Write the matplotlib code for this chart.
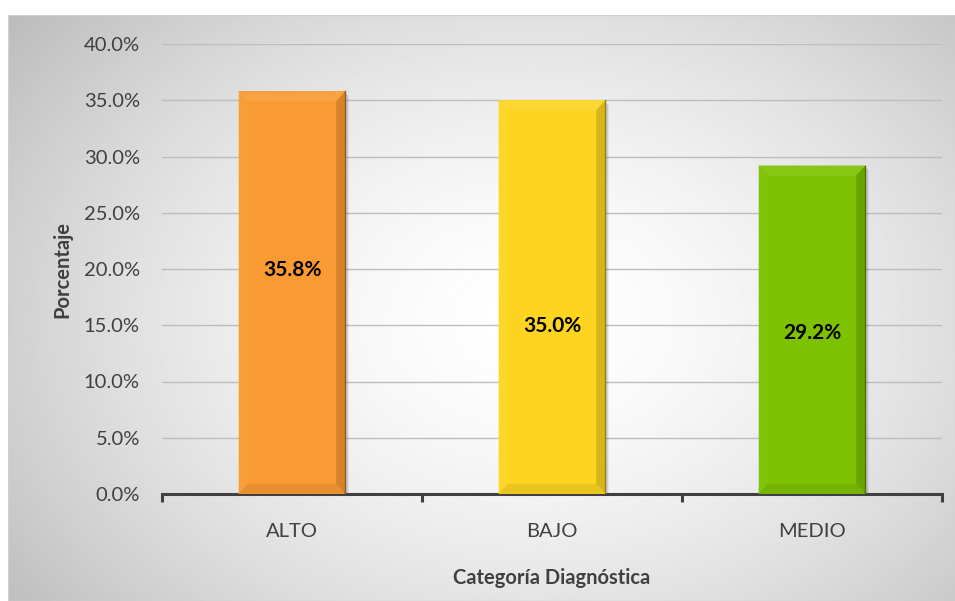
import matplotlib
matplotlib.use("Agg")
import matplotlib.pyplot as plt
from matplotlib.patches import Polygon
from matplotlib.colors import to_rgb
from matplotlib.ticker import FuncFormatter, MultipleLocator
import numpy as np

categories = ["ALTO", "BAJO", "MEDIO"]
values = [35.8, 35.0, 29.2]
labels = ["35.8%", "35.0%", "29.2%"]
label_y = [19.9, 14.9, 14.3]
colors = ["#F99A32", "#FDD521", "#7DC100"]


def mix(c, other, t):
    c = np.array(to_rgb(c))
    o = np.array(to_rgb(other))
    return tuple(c * (1 - t) + o * t)


def main():
    plt.rcParams['font.family'] = ['Lato', 'DejaVu Sans']
    W, H = 955, 601
    fig = plt.figure(figsize=(W / 100, H / 100), dpi=100)
    fig.patch.set_facecolor("white")

    # radial gradient background of the chart area
    bg = fig.add_axes([8 / W, 0, 1 - 8 / W, (H - 15) / H], zorder=0)
    ny, nx = 300, 480
    yy, xx = np.mgrid[0:ny, 0:nx]
    cx, cy = nx * 0.55, ny * 0.52
    r = np.sqrt(((xx - cx) / (nx * 0.62)) ** 2 + ((yy - cy) / (ny * 0.75)) ** 2)
    shade = 1 - 0.22 * np.clip(r, 0, 1.3) ** 1.6
    bg.imshow(shade, cmap="gray", vmin=0, vmax=1, aspect="auto",
              interpolation="bilinear")
    bg.set_axis_off()
    bg.add_patch(plt.Rectangle((0, 0), 1, 1, transform=bg.transAxes,
                               fill=False, ec="#d0d0d0", lw=1))

    ax = fig.add_axes([162 / W, 1 - 494 / H, (942 - 162) / W, (494 - 44) / H], zorder=1)
    ax.set_facecolor("none")

    x = np.arange(len(categories))
    width = 0.41
    ax.bar(x, values, width=width, color=colors, zorder=3,
           edgecolor="none")

    bx, by = 0.035, 0.9
    for xi, v, c in zip(x, values, colors):
        x0, x1 = xi - width / 2, xi + width / 2
        # shadow on the right
        ax.add_patch(Polygon([(x1, v - 0.2), (x1 + 0.012, v - 0.4), (x1 + 0.012, 0), (x1, 0)],
                             closed=True, fc=(0, 0, 0, 0.15), ec="none", zorder=2))
        # bevel faces
        ax.add_patch(Polygon([(x0, v), (x1, v), (x1 - bx, v - by), (x0 + bx, v - by)],
                             closed=True, fc=mix(c, "white", 0.08), ec="none", zorder=4))
        ax.add_patch(Polygon([(x1, v), (x1, 0), (x1 - bx, by), (x1 - bx, v - by)],
                             closed=True, fc=mix(c, "black", 0.15), ec="none", zorder=4))
        ax.add_patch(Polygon([(x0, v), (x0, 0), (x0 + bx, by), (x0 + bx, v - by)],
                             closed=True, fc=mix(c, "white", 0.03), ec="none", zorder=4))
        ax.add_patch(Polygon([(x0, 0), (x1, 0), (x1 - bx, by), (x0 + bx, by)],
                             closed=True, fc=mix(c, "black", 0.07), ec="none", zorder=4))
        ax.plot([x1, x1], [0, v], color=mix(c, "black", 0.4), lw=1, zorder=5)

    for xi, ly, t in zip(x, label_y, labels):
        ax.text(xi, ly, t, ha="center", va="center", fontsize=15,
                fontweight="bold", color="black", zorder=6)

    ax.set_xlim(-0.5, len(categories) - 0.5)
    ax.set_ylim(0, 40)
    ax.yaxis.set_major_locator(MultipleLocator(5))
    ax.yaxis.set_major_formatter(FuncFormatter(lambda v, p: f"{v:.1f}%"))
    ax.grid(axis="y", color="#bdbdbd", lw=1, zorder=1)
    ax.set_axisbelow(True)

    for s in ["top", "right", "left"]:
        ax.spines[s].set_visible(False)
    ax.spines["bottom"].set_color("#404040")
    ax.spines["bottom"].set_linewidth(2.2)

    ax.set_xticks(x)
    ax.set_xticklabels(categories, fontsize=14.5, color="#404040")
    ax.tick_params(axis="x", length=0, pad=21)
    ax.set_xticks(np.arange(-0.5, len(categories)), minor=True)
    ax.tick_params(axis="x", which="minor", length=6, width=2.2, color="#404040")
    ax.tick_params(axis="y", length=0, pad=16, labelsize=14.5, labelcolor="#404040")

    ax.set_xlabel("Categoría Diagnóstica", fontsize=14.5, fontweight="bold",
                  color="#404040", labelpad=20)
    ax.set_ylabel("Porcentaje", fontsize=14.5, fontweight="bold",
                  color="#404040", labelpad=8)

    fig.savefig("out.png", dpi=100)


if __name__ == "__main__":
    main()
